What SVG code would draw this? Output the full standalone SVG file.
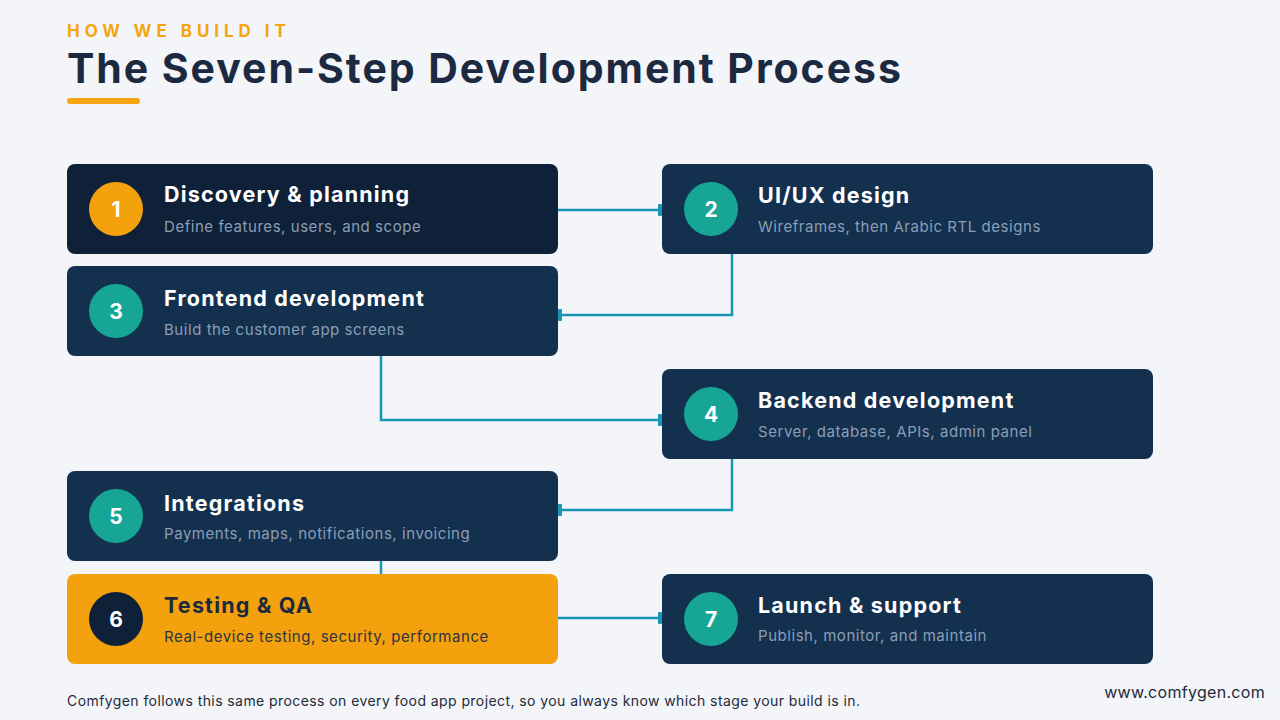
<svg xmlns="http://www.w3.org/2000/svg" width="1280" height="720" viewBox="0 0 1280 720">
<defs>
<style>
.bg{fill:#F3F5F9}
.card{fill:#13304F}
.card1{fill:#0E2139}
.card6{fill:#F4A10E}
.cteal{fill:#17A595}
.corange{fill:#F4A10E}
.cnavy{fill:#0E2139}
.num{font-family:Inter,"Liberation Sans",sans-serif;font-weight:700;font-size:21px;fill:#FFFFFF;text-anchor:middle}
.ttl{font-family:Inter,"Liberation Sans",sans-serif;font-weight:700;font-size:21.5px;fill:#FFFFFF;letter-spacing:1.2px}
.sub{font-family:Inter,"Liberation Sans",sans-serif;font-weight:400;font-size:15px;fill:#8C9EB6;letter-spacing:0.55px}
.ttl6{fill:#1B2A3D}
.sub6{fill:#2E3440}
.conn{fill:none;stroke:#1697B4;stroke-width:2.5}
</style>
<marker id="tick" viewBox="0 0 4 12" refX="2" refY="6" markerWidth="4" markerHeight="12" markerUnits="userSpaceOnUse" orient="auto">
<rect x="0" y="0" width="4" height="12" rx="1" fill="#1697B4"/>
</marker>
</defs>
<rect class="bg" x="0" y="0" width="1280" height="720"/>

<g id="header">
<text x="67" y="37" font-family="Inter,'Liberation Sans',sans-serif" font-weight="700" font-size="17" fill="#F4A510" letter-spacing="4.95">HOW WE BUILD IT</text>
<text x="67" y="83" font-family="Inter,'Liberation Sans',sans-serif" font-weight="700" font-size="41" fill="#1B2A40" letter-spacing="1.95">The Seven-Step Development Process</text>
<rect x="67" y="98" width="73" height="6" rx="3" fill="#F4A510"/>
</g>

<g id="connectors">
<path class="conn" d="M558 210 H660" marker-end="url(#tick)"/>
<path class="conn" d="M732 254 V315 H560" marker-end="url(#tick)"/>
<path class="conn" d="M381 356 V420 H660" marker-end="url(#tick)"/>
<path class="conn" d="M732 459 V510 H560" marker-end="url(#tick)"/>
<path class="conn" d="M381 561 V574"/>
<path class="conn" d="M558 618 H660" marker-end="url(#tick)"/>
</g>

<g id="step1">
<rect class="card1" x="67" y="164" width="491" height="90" rx="8"/>
<circle class="corange" cx="116" cy="209" r="27"/>
<text class="num" x="116" y="216.5">1</text>
<text class="ttl" x="164" y="202">Discovery &amp; planning</text>
<text class="sub" x="164" y="232">Define features, users, and scope</text>
</g>

<g id="step2">
<rect class="card" x="662" y="164" width="491" height="90" rx="8"/>
<circle class="cteal" cx="711" cy="209" r="27"/>
<text class="num" x="711" y="216.5">2</text>
<text class="ttl" x="758" y="203">UI/UX design</text>
<text class="sub" x="758" y="232">Wireframes, then Arabic RTL designs</text>
</g>

<g id="step3">
<rect class="card" x="67" y="266" width="491" height="90" rx="8"/>
<circle class="cteal" cx="116" cy="311" r="27"/>
<text class="num" x="116" y="318.5">3</text>
<text class="ttl" x="164" y="306">Frontend development</text>
<text class="sub" x="164" y="335">Build the customer app screens</text>
</g>

<g id="step4">
<rect class="card" x="662" y="369" width="491" height="90" rx="8"/>
<circle class="cteal" cx="711" cy="414" r="27"/>
<text class="num" x="711" y="421.5">4</text>
<text class="ttl" x="758" y="408">Backend development</text>
<text class="sub" x="758" y="437">Server, database, APIs, admin panel</text>
</g>

<g id="step5">
<rect class="card" x="67" y="471" width="491" height="90" rx="8"/>
<circle class="cteal" cx="116" cy="516" r="27"/>
<text class="num" x="116" y="523.5">5</text>
<text class="ttl" x="164" y="511">Integrations</text>
<text class="sub" x="164" y="539">Payments, maps, notifications, invoicing</text>
</g>

<g id="step6">
<rect class="card6" x="67" y="574" width="491" height="90" rx="8"/>
<circle class="cnavy" cx="116" cy="619" r="27"/>
<text class="num" x="116" y="626.5">6</text>
<text class="ttl ttl6" x="164" y="613">Testing &amp; QA</text>
<text class="sub sub6" x="164" y="642">Real-device testing, security, performance</text>
</g>

<g id="step7">
<rect class="card" x="662" y="574" width="491" height="90" rx="8"/>
<circle class="cteal" cx="711" cy="619" r="27"/>
<text class="num" x="711" y="626.5">7</text>
<text class="ttl" x="758" y="613">Launch &amp; support</text>
<text class="sub" x="758" y="641">Publish, monitor, and maintain</text>
</g>

<g id="footer">
<text x="67" y="706" font-family="Inter,'Liberation Sans',sans-serif" font-size="14" fill="#1E2A3A" letter-spacing="0.42">Comfygen follows this same process on every food app project, so you always know which stage your build is in.</text>
<text x="1265" y="698" font-family="Inter,'Liberation Sans',sans-serif" font-size="16" fill="#1E2A3A" text-anchor="end" letter-spacing="0.3">www.comfygen.com</text>
</g>
</svg>
